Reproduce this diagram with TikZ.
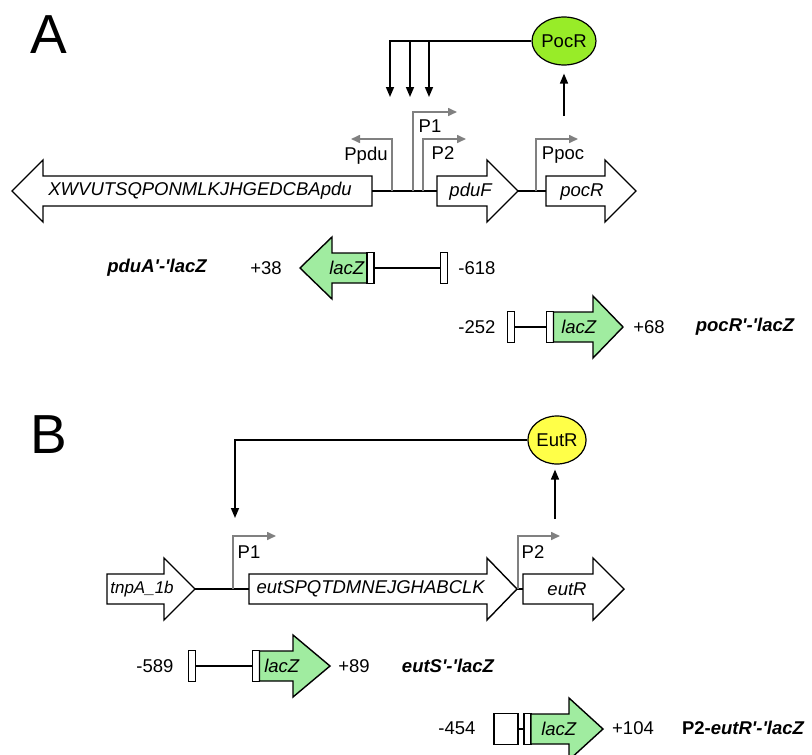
\documentclass[tikz,border=0pt]{standalone}
\usepackage{fontspec}
\setmainfont{Liberation Sans}
\usetikzlibrary{arrows.meta,shapes.geometric}
\definecolor{lacgreen}{RGB}{160,236,160}
\definecolor{pocgreen}{RGB}{152,236,40}
\definecolor{eutyellow}{RGB}{255,255,72}
\definecolor{promgray}{RGB}{128,128,128}
\newcommand{\genearrow}[6]{%
  \draw[#6] (#2,#5-15) -- (#3,#5-15) -- (#3,#5-31) -- (#4,#5) -- (#3,#5+31) -- (#3,#5+15) -- (#2,#5+15) -- cycle;
  \coordinate (#1 tail) at (#2,#5);
  \coordinate (#1 tip) at (#4,#5);}

\begin{document}
\begin{tikzpicture}[x=1pt, y=-1pt, font=\fontsize{18.5}{22}\selectfont,
  gene/.style={draw, line width=1.4pt, fill=white, line join=miter},
  lacz/.style={draw, line width=1.4pt, fill=lacgreen, line join=miter},
  endbox/.style={draw, line width=1.2pt, fill=white, inner sep=0pt, minimum width=7pt, minimum height=31pt},
  backbone/.style={draw, line width=1.6pt},
  prom/.style={draw=promgray, line width=1.6pt, -{Triangle[length=9pt,width=8pt]}},
  reg/.style={draw, line width=1.6pt, -{Triangle[length=10pt,width=8pt]}},
  regulator/.style={ellipse, draw, line width=1.2pt, minimum width=55pt, minimum height=48pt, inner sep=0pt},
  panel/.style={font=\fontsize{55}{60}\selectfont},
  fusion/.style={font=\fontsize{18.5}{22}\selectfont\bfseries\itshape}]
    \useasboundingbox (0,0) rectangle (812,755);

    \node[panel] (A) at (49,35) {A};
    \genearrow{pduABC}{372}{43}{12}{191}{gene}
    \genearrow{pduF}{437}{487}{518}{191}{gene}
    \genearrow{pocR}{546}{605}{636}{191}{gene}
    \node (pduABClab) at (200,191) {\textit{XWVUTSQPONMLKJHGEDCBApdu}};
    \node (pduFlab) at (471,192) {\textit{pduF}};
    \node (pocRlab) at (582,192) {\textit{pocR}};
    \draw[backbone] (pduABC tail) -- (pduF tail);
    \draw[backbone] (pduF tip) -- (pocR tail);

    \coordinate (Ppdu base) at (392,191);
    \coordinate (Ppdu end) at (351,139);
    \coordinate (P1a base) at (413,191);
    \coordinate (P1a end) at (457,112);
    \coordinate (P2a base) at (423,191);
    \coordinate (P2a end) at (466,139);
    \coordinate (Ppoc base) at (536,191);
    \coordinate (Ppoc end) at (578,139);
    \draw[prom] (Ppdu base) |- (Ppdu end);
    \draw[prom] (P1a base) |- (P1a end);
    \draw[prom] (P2a base) |- (P2a end);
    \draw[prom] (Ppoc base) |- (Ppoc end);
    \node (Ppdu) at (366,156) {Ppdu};
    \node (P1a) at (430,126) {P1};
    \node (P2a) at (443,153) {P2};
    \node (Ppoc) at (563,155) {Ppoc};

    \node[regulator, fill=pocgreen] (PocR) at (564,41) {PocR};
    \coordinate (pocR out) at (564,116);
    \coordinate (Ppdu reg) at (390,97);
    \coordinate (P1a reg) at (410,97);
    \coordinate (P2a reg) at (429,97);
    \draw[reg, shorten >=8pt] (pocR out) -- (PocR.south);
    \draw[reg] (PocR.west) -| (Ppdu reg);
    \draw[reg] (P1a reg |- PocR.west) -- (P1a reg);
    \draw[reg] (P2a reg |- PocR.west) -- (P2a reg);

    \genearrow{lacZa}{367}{332}{300}{268}{lacz}
    \node[endbox] (pduAj) at (370.5,268) {};
    \node[endbox] (pduAe) at (444,268) {};
    \draw[backbone] (pduAj) -- (pduAe);
    \node (lacZalab) at (347,268) {\textit{lacZ}};
    \node (pduAplus) at (266,268) {+38};
    \node (pduAminus) at (477,268) {-618};
    \node[fusion] (pduAfus) at (157,268) {pduA\textquotesingle-\textquotesingle lacZ};

    \node[endbox] (pocRe) at (511,327) {};
    \node[endbox] (pocRj) at (550,327) {};
    \genearrow{lacZb}{553.5}{593}{623}{327}{lacz}
    \draw[backbone] (pocRe) -- (pocRj);
    \node (lacZblab) at (579,327) {\textit{lacZ}};
    \node (pocRminus) at (477,327) {-252};
    \node (pocRplus) at (649,327) {+68};
    \node[fusion] (pocRfus) at (745,327) {pocR\textquotesingle-\textquotesingle lacZ};

    \node[panel] (B) at (49,435) {B};
    \genearrow{tnpA}{107}{164}{195}{589}{gene}
    \genearrow{eutS}{249}{487}{517}{589}{gene}
    \genearrow{eutR}{523}{593}{624}{589}{gene}
    \node[font=\fontsize{17}{20}\selectfont] (tnpAlab) at (142,589) {\textit{tnpA\_1b}};
    \node (eutSlab) at (371,589) {\textit{eutSPQTDMNEJGHABCLK}};
    \node (eutRlab) at (567,589) {\textit{eutR}};
    \draw[backbone] (tnpA tip) -- (eutS tail);
    \draw[backbone] (eutS tip) -- (eutR tail);

    \coordinate (P1b base) at (233,589);
    \coordinate (P1b end) at (276,536);
    \coordinate (P2b base) at (518,589);
    \coordinate (P2b end) at (560,536);
    \draw[prom] (P1b base) |- (P1b end);
    \draw[prom] (P2b base) |- (P2b end);
    \node (P1b) at (249,552) {P1};
    \node (P2b) at (533,552) {P2};

    \node[regulator, fill=eutyellow] (EutR) at (557,440) {EutR};
    \coordinate (eutR out) at (555,519);
    \coordinate (P1b reg) at (235,518);
    \draw[reg, shorten >=5pt] (eutR out) -- (eutR out |- EutR.south);
    \draw[reg] (EutR.west) -| (P1b reg);

    \node[endbox] (eutSe) at (192,666) {};
    \node[endbox] (eutSj) at (256,666) {};
    \genearrow{lacZc}{259.5}{293}{330}{666}{lacz}
    \draw[backbone] (eutSe) -- (eutSj);
    \node (lacZclab) at (282,666) {\textit{lacZ}};
    \node (eutSminus) at (155,666) {-589};
    \node (eutSplus) at (354,666) {+89};
    \node[fusion] (eutSfus) at (448,666) {eutS\textquotesingle-\textquotesingle lacZ};

    \node[endbox, minimum width=24pt] (eutRe) at (506,729) {};
    \node[endbox] (eutRj) at (527.5,729) {};
    \genearrow{lacZd}{531}{569}{603}{729}{lacz}
    \draw[backbone] (eutRe) -- (eutRj);
    \node (lacZdlab) at (559,729) {\textit{lacZ}};
    \node (eutRminus) at (457,728) {-454};
    \node (eutRplus) at (633,728) {+104};
    \node[fusion] (eutRfus) at (743,728) {\upshape P2-\itshape eutR\textquotesingle-\textquotesingle lacZ};
\end{tikzpicture}
\end{document}
